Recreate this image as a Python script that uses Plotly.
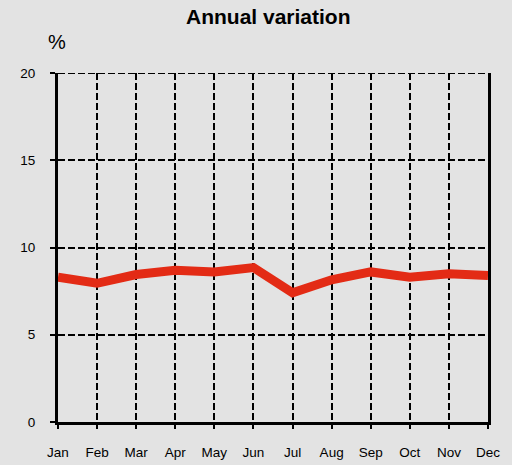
import plotly.graph_objects as go

months = ["Jan", "Feb", "Mar", "Apr", "May", "Jun", "Jul", "Aug", "Sep", "Oct", "Nov", "Dec"]
values = [8.3, 7.95, 8.45, 8.7, 8.6, 8.85, 7.4, 8.15, 8.6, 8.3, 8.5, 8.4]
y_ticks = [0, 5, 10, 15, 20]

x_idx = list(range(len(months)))

fig = go.Figure()
fig.add_trace(go.Scatter(
    x=x_idx, y=values, mode="lines",
    line=dict(color="#e32b15", width=9),
    hoverinfo="skip",
))

bg = "#e3e3e3"
dash = "7px,3px"
fig.update_layout(
    width=512, height=465,
    paper_bgcolor=bg, plot_bgcolor=bg,
    margin=dict(l=58, r=24, t=73, b=43, autoexpand=False),
    showlegend=False,
    font=dict(family="Liberation Sans, Arial, sans-serif", color="#000", size=13.5),
    xaxis=dict(
        range=[0, len(months) - 1],
        tickmode="array", tickvals=x_idx, ticktext=months,
        showgrid=True, gridcolor="#000", gridwidth=2, griddash=dash,
        showline=True, linecolor="#000", linewidth=3,
        ticks="outside", ticklen=4, tickwidth=2, tickcolor="#000",
        ticklabelstandoff=12, automargin=False,
        zeroline=False, fixedrange=True,
    ),
    yaxis=dict(
        range=[0, 20],
        tickmode="array", tickvals=y_ticks,
        showgrid=True, gridcolor="#000", gridwidth=2, griddash=dash,
        showline=True, linecolor="#000", linewidth=3, mirror=True,
        ticks="outside", ticklen=5, tickwidth=2, tickcolor="#000",
        ticklabelstandoff=12, automargin=False,
        zeroline=False, fixedrange=True,
    ),
    shapes=[dict(type="line", xref="paper", yref="y", x0=0, x1=1,
                 y0=y_ticks[-1], y1=y_ticks[-1],
                 line=dict(color="#000", width=2, dash=dash), layer="below")],
    annotations=[
        dict(text="<b>Annual variation</b>", xref="paper", yref="paper",
             x=0.4895, y=1.163, xanchor="center", yanchor="middle", showarrow=False,
             font=dict(size=21, color="#000")),
        dict(text="%", xref="paper", yref="paper", x=-0.027, y=1.089,
             xanchor="left", yanchor="middle", showarrow=False,
             font=dict(size=20, color="#000")),
    ],
)

fig.write_html("out.html", config={"displayModeBar": False},
               post_script="document.body.style.margin='0';")
